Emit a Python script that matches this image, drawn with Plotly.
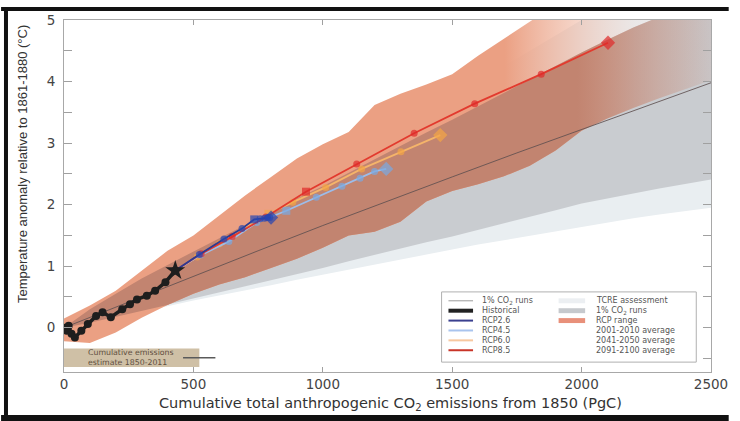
import plotly.graph_objects as go

# ---------------- data ----------------
BAND_X = [0, 100, 200, 300, 400, 500, 600, 700, 800, 900, 1000, 1100, 1200,
          1300, 1400, 1500, 1600, 1700, 1800, 1900, 2000, 2100, 2200, 2300, 2400, 2500]
TCRE_LO = [0, 0.09, 0.18, 0.27, 0.35, 0.44, 0.52, 0.61, 0.69, 0.78, 0.86, 0.94, 1.03,
           1.11, 1.19, 1.27, 1.35, 1.43, 1.50, 1.57, 1.64, 1.71, 1.78, 1.84, 1.90, 1.95]
TCRE_HI = [0, 0.25, 0.5, 0.75, 1.0, 1.25, 1.5, 1.75, 2.0, 2.25, 2.5, 2.75, 3.0,
           3.25, 3.5, 3.75, 4.0, 4.25, 4.5, 4.75, 5.0, 5.25, 5.5, 5.75, 6.0, 6.25]
PCT_LO = [0, 0.08, 0.17, 0.27, 0.37, 0.47, 0.57, 0.67, 0.77, 0.87, 0.97, 1.08, 1.19,
          1.29, 1.39, 1.48, 1.58, 1.69, 1.80, 1.91, 2.02, 2.10, 2.18, 2.26, 2.34, 2.41]
PCT_HI = [0, 0.30, 0.55, 0.80, 1.02, 1.24, 1.45, 1.67, 1.88, 2.10, 2.30, 2.52, 2.73,
          2.95, 3.17, 3.38, 3.60, 3.82, 4.03, 4.25, 4.47, 4.68, 4.88, 5.05, 5.25, 5.45]
RCP_LO = [-0.22, -0.25, -0.08, 0.16, 0.37, 0.55, 0.70, 0.82, 0.97, 1.12, 1.30, 1.50, 1.56,
          1.72, 2.05, 2.22, 2.33, 2.46, 2.63, 2.88, 3.20, 3.40, 3.57, 3.73, 3.88, 4.02]
RCP_HI = [0.15, 0.36, 0.60, 0.92, 1.25, 1.50, 1.82, 2.15, 2.45, 2.75, 2.98, 3.18, 3.62,
          3.80, 3.95, 4.12, 4.42, 4.70, 4.98, 5.25, 5.50, 5.70, 5.90, 6.10, 6.30, 6.50]

PCT_X = [0, 250, 500, 750, 1000, 1250, 1500, 1750, 2000, 2250, 2500]
PCT_Y = [0, 0.42, 0.84, 1.25, 1.66, 2.06, 2.45, 2.84, 3.22, 3.60, 3.98]

HIST_X = [0, 10, 18, 29, 42, 67, 92, 124, 149, 181, 225, 255, 282, 320, 352, 392, 430]
HIST_Y = [0.0, -0.05, 0.03, -0.10, -0.16, -0.05, 0.06, 0.19, 0.25, 0.17, 0.30, 0.38,
          0.46, 0.52, 0.60, 0.74, 0.93]

RCP26_X = [430, 523, 618, 688, 735, 758, 775, 787, 795, 800]
RCP26_Y = [0.93, 1.19, 1.44, 1.61, 1.76, 1.77, 1.78, 1.79, 1.79, 1.79]
RCP45_X = [430, 528, 637, 745, 859, 975, 1074, 1144, 1200, 1245]
RCP45_Y = [0.93, 1.18, 1.40, 1.71, 1.90, 2.12, 2.30, 2.43, 2.54, 2.58]
RCP60_X = [430, 515, 600, 690, 790, 884, 1011, 1150, 1302, 1454]
RCP60_Y = [0.93, 1.15, 1.36, 1.60, 1.85, 2.04, 2.28, 2.58, 2.86, 3.13]
RCP85_X = [430, 530, 650, 780, 935, 1131, 1353, 1587, 1844, 2102]
RCP85_Y = [0.93, 1.20, 1.48, 1.80, 2.21, 2.66, 3.16, 3.64, 4.12, 4.63]

EMIS_BOX_X = [0, 523]
EMIS_BOX_Y = [-0.64, -0.34]
EMIS_LINE_X = [460, 585]
EMIS_LINE_Y = -0.49

X_TICKS = [0, 500, 1000, 1500, 2000, 2500]
Y_TICKS = [0, 1, 2, 3, 4, 5]

# ---------------- styling ----------------
C_TCRE = "#e9eef1"
C_PCT = "#c9ccd0"
C_SALMON = (235, 160, 131)
C_BROWN = (194, 132, 112)
FONT = "DejaVu Sans"

W, H = 740, 421
L, R, T, B = 64, 18, 16, 49
PW, PH = W - L - R, H - T - B


def px(x):          # pixel -> paper
    return (x - L) / PW


def py(y):
    return (H - B - y) / PH


def band(xs, lo, hi):
    return list(xs) + list(xs)[::-1], list(hi) + list(lo)[::-1]


def rgba(c, a):
    return f"rgba({c[0]},{c[1]},{c[2]},{a})"


fig = go.Figure()

# TCRE assessment
bx, by = band(BAND_X, TCRE_LO, TCRE_HI)
fig.add_trace(go.Scatter(x=bx, y=by, fill="toself", fillcolor=C_TCRE, mode="lines",
                         line=dict(width=0), hoverinfo="skip", showlegend=False))
# 1% CO2 runs range
bx, by = band(BAND_X, PCT_LO, PCT_HI)
fig.add_trace(go.Scatter(x=bx, y=by, fill="toself", fillcolor=C_PCT, mode="lines",
                         line=dict(width=0), hoverinfo="skip", showlegend=False))

# RCP range (salmon) fading at high emissions
bx, by = band(BAND_X, RCP_LO, RCP_HI)
fig.add_trace(go.Scatter(
    x=bx, y=by, fill="toself", mode="lines", line=dict(width=0), hoverinfo="skip",
    showlegend=False,
    fillgradient=dict(type="horizontal", start=0, stop=2500,
                      colorscale=[[0, rgba(C_SALMON, 1)], [0.67, rgba(C_SALMON, 1)],
                                  [0.77, rgba((238, 178, 155), 0.6)],
                                  [0.87, rgba((242, 195, 178), 0.15)],
                                  [1, rgba((242, 195, 178), 0)]])))

# overlap of RCP range and 1% runs (darker brown)
ov_lo = [max(a, b) for a, b in zip(RCP_LO, PCT_LO)]
ov_hi = [max(min(a, b), lo) for a, b, lo in zip(RCP_HI, PCT_HI, ov_lo)]
bx, by = band(BAND_X, ov_lo, ov_hi)
fig.add_trace(go.Scatter(
    x=bx, y=by, fill="toself", mode="lines", line=dict(width=0), hoverinfo="skip",
    showlegend=False,
    fillgradient=dict(type="horizontal", start=0, stop=2500,
                      colorscale=[[0, rgba(C_BROWN, 1)], [0.78, rgba(C_BROWN, 1)],
                                  [0.90, rgba(C_BROWN, 0.45)],
                                  [1, rgba(C_BROWN, 0.05)]])))

# 1% CO2 mean line
fig.add_trace(go.Scatter(x=PCT_X, y=PCT_Y, mode="lines",
                         line=dict(color="rgba(95,80,80,0.85)", width=1),
                         hoverinfo="skip", showlegend=False))


def rcp_trace(xs, ys, lcol, mcol):
    n = len(xs)
    sym = ["circle"] * n
    size = [7] * n
    sym[4] = "square"
    size[4] = 8
    sym[-1] = "diamond"
    size[-1] = 11
    size[0] = 0
    return go.Scatter(x=xs, y=ys, mode="lines+markers",
                      line=dict(color=lcol, width=1.8),
                      marker=dict(symbol=sym, size=size, color=mcol, line=dict(width=0)),
                      hoverinfo="skip", showlegend=False)


fig.add_trace(rcp_trace(RCP60_X, RCP60_Y, "#f5b46a", "#f4a545"))
fig.add_trace(rcp_trace(RCP45_X, RCP45_Y, "#9cbdea", "#79a9e2"))
fig.add_trace(rcp_trace(RCP85_X, RCP85_Y, "#e23a2e", "#e02a2a"))
fig.add_trace(rcp_trace(RCP26_X, RCP26_Y, "#2b3a93", "#2646b2"))

# historical
fig.add_trace(go.Scatter(x=HIST_X, y=HIST_Y, mode="lines+markers",
                         line=dict(color="#1e1e1e", width=3.5),
                         marker=dict(size=8, color="#1e1e1e"),
                         hoverinfo="skip", showlegend=False))
fig.add_trace(go.Scatter(x=HIST_X[-1:], y=HIST_Y[-1:], mode="markers",
                         marker=dict(symbol="star", size=15, color="#1e1e1e"),
                         hoverinfo="skip", showlegend=False))

shapes = []
annotations = []

# cumulative emissions estimate box
shapes.append(dict(type="rect", xref="x", yref="y", x0=EMIS_BOX_X[0], x1=EMIS_BOX_X[1],
                   y0=EMIS_BOX_Y[0], y1=EMIS_BOX_Y[1], fillcolor="#cfc0a6",
                   line=dict(width=0), layer="above"))
shapes.append(dict(type="line", xref="x", yref="y", x0=EMIS_LINE_X[0], x1=EMIS_LINE_X[1],
                   y0=EMIS_LINE_Y, y1=EMIS_LINE_Y, line=dict(color="#5a5a5a", width=1.5)))
annotations.append(dict(xref="paper", yref="paper", x=px(86), y=py(352.5),
                        text="Cumulative emissions", showarrow=False, xanchor="left",
                        yanchor="middle", font=dict(family=FONT, size=7.8, color="#5e4e3e")))
annotations.append(dict(xref="paper", yref="paper", x=px(86), y=py(362),
                        text="estimate 1850-2011", showarrow=False, xanchor="left",
                        yanchor="middle", font=dict(family=FONT, size=7.8, color="#5e4e3e")))

# legend box
shapes.append(dict(type="rect", xref="paper", yref="paper", x0=px(448), x1=px(707),
                   y0=py(362), y1=py(291), fillcolor="white",
                   line=dict(color="#b0b0b0", width=1), layer="above"))
rows = [300, 310, 320, 330, 340, 350]
col1 = [("1% CO<sub>2</sub> runs", "#9a9a9a", 1),
        ("Historical", "#222222", 4),
        ("RCP2.6", "#3a3f8f", 2),
        ("RCP4.5", "#a9c4ee", 2),
        ("RCP6.0", "#f7c8a0", 2),
        ("RCP8.5", "#c83428", 2)]
for (txt, col, wd), r in zip(col1, rows):
    shapes.append(dict(type="line", xref="paper", yref="paper", x0=px(455), x1=px(480),
                       y0=py(r), y1=py(r), line=dict(color=col, width=wd), layer="above"))
    annotations.append(dict(xref="paper", yref="paper", x=px(487), y=py(r), text=txt,
                            showarrow=False, xanchor="left", yanchor="middle",
                            font=dict(family=FONT, size=8, color="#555555")))
col2_sw = [("TCRE assessment", "#eceff2"), ("1% CO<sub>2</sub> runs", "#c6c9cd"),
           ("RCP range", "#e8907a")]
for (txt, col), r in zip(col2_sw, rows[:3]):
    shapes.append(dict(type="rect", xref="paper", yref="paper", x0=px(567), x1=px(594),
                       y0=py(r + 2.5), y1=py(r - 2.5), fillcolor=col, line=dict(width=0),
                       layer="above"))
    annotations.append(dict(xref="paper", yref="paper", x=px(603), y=py(r), text=txt,
                            showarrow=False, xanchor="left", yanchor="middle",
                            font=dict(family=FONT, size=8, color="#555555")))
for txt, r in zip(["2001-2010 average", "2041-2050 average", "2091-2100 average"], rows[3:]):
    annotations.append(dict(xref="paper", yref="paper", x=px(603), y=py(r), text=txt,
                            showarrow=False, xanchor="left", yanchor="middle",
                            font=dict(family=FONT, size=8, color="#555555")))

# legend marker samples on an overlay axis in pixel units
fig.add_trace(go.Scatter(x=[580, 580, 580], y=rows[3:], xaxis="x2", yaxis="y2",
                         mode="markers",
                         marker=dict(symbol=["star-open", "square-open-dot", "diamond"],
                                     size=[11, 8, 12], color=["#8a8a8a", "#8a8a8a", "#b0b0b0"],
                                     line=dict(width=1, color=["#8a8a8a", "#8a8a8a", "#c8c8c8"])),
                         hoverinfo="skip", showlegend=False))

# outer black frame
shapes.append(dict(type="line", xref="paper", yref="paper", x0=px(0), x1=px(740),
                   y0=py(5), y1=py(5), line=dict(color="#111", width=4)))
shapes.append(dict(type="line", xref="paper", yref="paper", x0=px(5), x1=px(5),
                   y0=py(3), y1=py(421), line=dict(color="#111", width=4)))
shapes.append(dict(type="line", xref="paper", yref="paper", x0=px(0), x1=px(740),
                   y0=py(418.5), y1=py(418.5), line=dict(color="#111", width=6)))

# axis titles
annotations.append(dict(xref="paper", yref="paper", x=px(22), y=py(162),
                        text="Temperature anomaly relative to 1861-1880 (°C)",
                        textangle=-90, showarrow=False, xanchor="center", yanchor="middle",
                        font=dict(family="Liberation Sans", size=13, color="#333")))
annotations.append(dict(xref="paper", yref="paper", x=px(396), y=py(404),
                        text="Cumulative total anthropogenic CO<sub>2</sub> emissions from 1850 (PgC)",
                        showarrow=False, xanchor="center", yanchor="middle",
                        font=dict(family=FONT, size=14.5, color="#333")))

axis_common = dict(showline=True, linecolor="#a8a8a8", linewidth=1, mirror="ticks",
                   ticks="inside", tickcolor="#a0a0a0", showgrid=False, zeroline=False,
                   tickfont=dict(family=FONT, size=13.5, color="#444"))

fig.update_layout(
    width=W, height=H, margin=dict(l=L, r=R, t=T, b=B),
    paper_bgcolor="white", plot_bgcolor="white",
    xaxis=dict(range=[0, 2500], tickvals=X_TICKS, ticklen=5, **axis_common),
    yaxis=dict(range=[-0.72, 5], tickvals=Y_TICKS, ticklen=8, ticklabelstandoff=5,
               minor=dict(dtick=0.5, tick0=0, ticks="inside", ticklen=8, tickcolor="#a0a0a0"),
               **axis_common),
    xaxis2=dict(range=[L, W - R], overlaying="x", anchor="y2", visible=False,
                fixedrange=True),
    yaxis2=dict(range=[H - B, T], overlaying="y", anchor="x2", visible=False,
                fixedrange=True),
    shapes=shapes, annotations=annotations, showlegend=False,
)

fig.write_html(
    "out.html",
    config={"displayModeBar": False},
    post_script=("document.documentElement.style.margin='0';"
                 "document.documentElement.style.overflow='hidden';"
                 "document.body.style.margin='0';"
                 "document.body.style.overflow='hidden';"
                 "var gd=document.getElementById('{plot_id}');"
                 "gd.style.position='fixed';gd.style.left='0px';gd.style.top='0px';"),
)
